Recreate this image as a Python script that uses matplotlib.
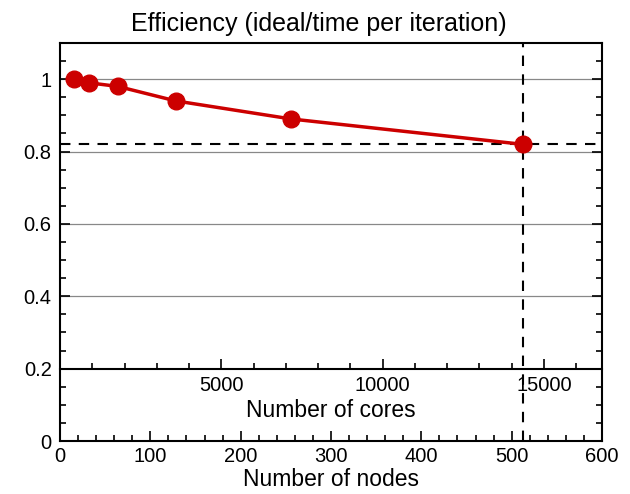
import numpy as np
import matplotlib
matplotlib.use('Agg')
import matplotlib.pyplot as plt
from matplotlib.ticker import MultipleLocator, NullFormatter

plt.rcParams['font.family'] = ['Liberation Sans', 'DejaVu Sans']

# data
nodes = [16, 32, 64, 128, 256, 512]
efficiency = [1.0, 0.99, 0.98, 0.94, 0.89, 0.82]
cores_per_node = 28
ref_nodes = 512
ref_eff = 0.82
x_ticks_nodes = [0, 100, 200, 300, 400, 500, 600]
y_ticks = [0, 0.2, 0.4, 0.6, 0.8, 1.0]
y_tick_labels = ['0', '0.2', '0.4', '0.6', '0.8', '1']
core_ticks = [5000, 10000, 15000]

red = '#cc0000'

fig = plt.figure(figsize=(6.3, 4.94), dpi=100)
ax = fig.add_axes([60/630, 1 - 441/494, (602-60)/630, (441-43)/494])

ax.set_xlim(0, 600)
ax.set_ylim(0, 1.1)

# grid lines
for yv in [0.4, 0.6, 0.8, 1.0]:
	ax.axhline(yv, color='#888888', lw=0.9, zorder=1)

ax.axhline(ref_eff, color='black', lw=1.5, ls=(0, (5, 4)), zorder=2)
ax.axvline(ref_nodes, color='black', lw=1.5, ls=(0, (5, 4)), zorder=2)

ax.plot(nodes, efficiency, color=red, lw=2.5, marker='o', ms=12, zorder=3)

ax.set_xticks(x_ticks_nodes)
ax.xaxis.set_minor_locator(MultipleLocator(20))
ax.set_yticks(y_ticks)
ax.set_yticklabels(y_tick_labels)
ax.yaxis.set_minor_locator(MultipleLocator(0.05))
ax.tick_params(which='both', direction='in', top=True, right=True, width=1.2, labelsize=14.5)
ax.tick_params(which='major', length=7)
ax.tick_params(which='minor', length=4)
ax.tick_params(axis='x', pad=4)
ax.tick_params(axis='y', pad=6)
for sp in ax.spines.values():
	sp.set_linewidth(1.5)

ax.set_xlabel('Number of nodes', fontsize=16.5, labelpad=2)
ax.set_title('Efficiency (ideal/time per iteration)', fontsize=18, pad=9, x=0.477)

# cores axis drawn along y = 0.2
ax2 = ax.twiny()
ax2.set_xlim(0, 600 * cores_per_node)
ax2.xaxis.set_ticks_position('bottom')
ax2.xaxis.set_label_position('bottom')
ax2.spines['bottom'].set_position(('data', 0.2))
ax2.spines['bottom'].set_linewidth(1.5)
for s in ['top', 'left', 'right']:
	ax2.spines[s].set_visible(False)
ax2.set_xticks(core_ticks)
ax2.xaxis.set_minor_locator(MultipleLocator(1000))
ax2.tick_params(which='both', direction='in', width=1.2, labelsize=14.5, pad=5)
ax2.tick_params(which='major', length=7)
ax2.tick_params(which='minor', length=4)
ax2.set_xlabel('Number of cores', fontsize=16.5, labelpad=3)

fig.savefig('out.png', dpi=100)
